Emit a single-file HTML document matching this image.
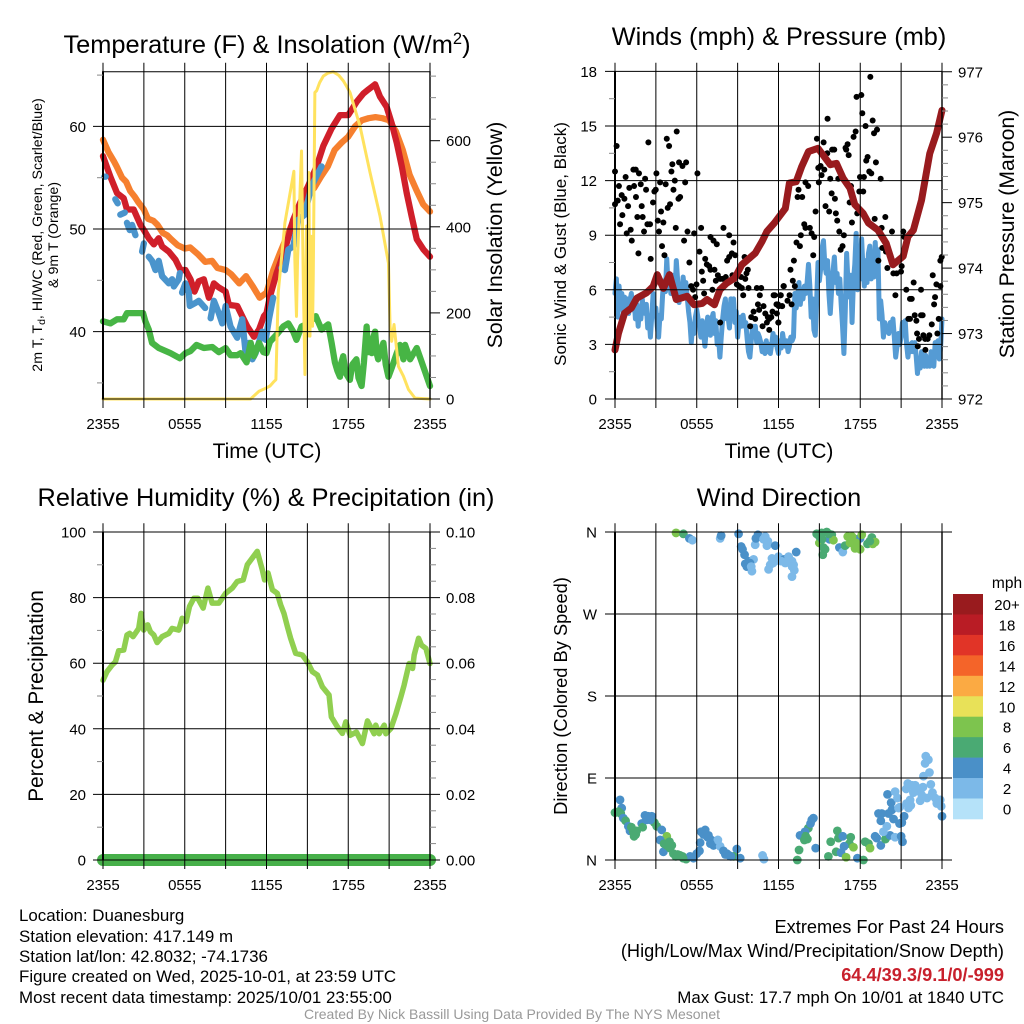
<!DOCTYPE html>
<html lang="en">
<head>
<meta charset="utf-8">
<title>Duanesburg Mesonet Meteogram</title>
<style>
html,body{margin:0;padding:0;background:#fff;}
svg{display:block;font-family:"Liberation Sans",sans-serif;}
text{fill:#000;}
</style>
</head>
<body>
<svg id="chart" xmlns="http://www.w3.org/2000/svg" width="1024" height="1024" viewBox="0 0 1024 1024">
<rect x="0" y="0" width="1024" height="1024" fill="#fff"/>
<g id="marks"></g>
<g id="axes"></g>
<g id="labels"></g>

<text x="267" y="53" font-size="25.4" text-anchor="middle">Temperature (F) &amp; Insolation (W/m<tspan dy="-9" font-size="16.5">2</tspan><tspan dy="9">)</tspan></text>
<text x="779" y="45" font-size="25.3" text-anchor="middle">Winds (mph) &amp; Pressure (mb)</text>
<text x="266" y="506" font-size="25.3" text-anchor="middle">Relative Humidity (%) &amp; Precipitation (in)</text>
<text x="779" y="506" font-size="25.3" text-anchor="middle">Wind Direction</text>

<text x="267" y="458" font-size="21" text-anchor="middle">Time (UTC)</text>
<text x="779" y="458" font-size="21" text-anchor="middle">Time (UTC)</text>

<text transform="translate(42,235) rotate(-90)" font-size="14.2" text-anchor="middle">2m T, T<tspan dy="3" font-size="10.5">d</tspan><tspan dy="-3">, HI/WC (Red, Green, Scarlet/Blue)</tspan></text>
<text transform="translate(58,235) rotate(-90)" font-size="14.2" text-anchor="middle">&amp; 9m T (Orange)</text>
<text transform="translate(502,235) rotate(-90)" font-size="21.2" text-anchor="middle">Solar Insolation (Yellow)</text>
<text transform="translate(566,244) rotate(-90)" font-size="17" text-anchor="middle">Sonic Wind &amp; Gust (Blue, Black)</text>
<text transform="translate(1014,234) rotate(-90)" font-size="21.2" text-anchor="middle">Station Pressure (Maroon)</text>
<text transform="translate(43,696) rotate(-90)" font-size="20.8" text-anchor="middle">Percent &amp; Precipitation</text>
<text transform="translate(567,696) rotate(-90)" font-size="18.3" text-anchor="middle">Direction (Colored By Speed)</text>

<g id="legend">
<text x="1007" y="588" font-size="15.5" text-anchor="middle">mph</text>
</g>

<g font-size="16.9">
<text x="19" y="921">Location: Duanesburg</text>
<text x="19" y="942">Station elevation: 417.149 m</text>
<text x="19" y="962">Station lat/lon: 42.8032; -74.1736</text>
<text x="19" y="982">Figure created on Wed, 2025-10-01, at 23:59 UTC</text>
<text x="19" y="1003">Most recent data timestamp: 2025/10/01 23:55:00</text>
</g>
<g font-size="18.2" text-anchor="end">
<text x="1004" y="933">Extremes For Past 24 Hours</text>
<text x="1004" y="957">(High/Low/Max Wind/Precipitation/Snow Depth)</text>
<text x="1004" y="981" font-weight="bold" style="fill:#c8202c">64.4/39.3/9.1/0/-999</text>
<text x="1004" y="1003" font-size="16.9">Max Gust: 17.7 mph On 10/01 at 1840 UTC</text>
</g>
<text x="512" y="1019" font-size="14" text-anchor="middle" style="fill:#999">Created By Nick Bassill Using Data Provided By The NYS Mesonet</text>
</svg>

<script>
/* ---------- x axis ---------- */
const timeLabels = ["2355","0555","1155","1755","2355"];
const timeLabelHours = [0,6,12,18,24];
const timeGridHours = [0,3,6,9,12,15,18,21,24];

/* ---------- temperature panel ---------- */
const tempTicks = [40,50,60];
const tempMinor = [35,45,55,65];
const insolTicks = [0,200,400,600];
const insolMinor = [50,100,150,250,300,350,450,500,550,650,700,750];

const t9mHours = [0,.4,.8,1,1.4,1.7,2,2.3,2.6,3,3.3,3.7,4,4.4,4.7,5,5.5,6,6.4,7,7.5,8,8.4,9,9.4,10,10.5,11,11.5,12,12.5,13,13.5,14,14.5,15,15.5,16,16.5,17,17.5,18,18.5,19,19.5,20,20.5,21,21.5,22,22.5,23,23.5,24];
const t9mValues = [58.7,57.5,56.6,56.1,55,54.6,53.7,53.2,52.6,51.9,51,50.8,50.4,49.6,49.4,49,48.4,48.1,48.2,47.5,46.8,46.9,46.2,46,45.6,44.7,45.4,44.4,43.3,43.8,46,47.7,49.3,50.9,52.4,53.2,54,55.1,56.1,57.7,58.4,59,60,60.6,60.8,60.9,60.8,60.6,59.5,57.7,55.3,53.8,52.4,51.7];

const t2mHours = [0,.54,1.03,1.52,1.76,2.25,2.75,3,3.36,3.73,4.09,4.34,4.83,5.32,5.69,6.05,6.42,6.72,7.03,7.4,7.77,8.14,8.5,9,9.24,9.85,10.22,10.59,11.08,11.45,11.81,12,12.25,12.74,13.35,13.96,14.45,15.06,15.68,16.17,16.78,17.39,18,18.62,19.11,19.48,19.97,20.33,20.82,21.19,21.56,21.93,22.29,22.66,23.03,23.52,24];
const t2mValues = [57.1,55.1,53.5,53,51.9,51.9,50.4,49.9,49.1,48.5,49.1,48.3,47.8,47,46,46,45.1,43.9,44.9,45.1,43.3,44.7,44.3,43.9,42.6,42.5,41.5,40.5,39.5,40.2,41.5,41.8,43.4,45.7,48,50.9,52.5,54.2,56.1,58.1,59.8,61.1,61.1,62.4,63.2,63.6,64.1,62.9,61.9,60.3,58.4,56.1,53.5,51.2,49,48,47.3];

const hiWcHours = [.1,.2,null,.9,1.08,null,1.27,1.6,null,1.76,1.96,2.13,2.38,null,2.87,3,null,3.36,3.6,3.85,4.09,4.34,4.83,5.07,5.2,5.56,5.64,null,5.8,6.05,6.3,6.37,6.79,7.03,7.5,null,7.9,8.14,8.5,8.75,9,9.36,9.85,10.22,10.47,10.71,10.96,11.2,11.69,11.94,12.18,12.49,null,13.1,13.35,13.6,13.96,14.33,14.82,14.94,15.31,15.8,16.04];
const hiWcValues = [55.1,55.1,null,52.9,52.5,null,51.4,51.6,null,50.6,49.9,50.4,49.4,null,47.8,48.6,null,47.3,46.9,46,46.9,45.4,44.7,45.1,44.4,45.1,45.7,null,43.8,44.7,43.8,42.5,42.8,43,42.3,null,41.3,43,41.8,40.8,42.5,40.5,39.4,41.2,37.9,38.9,37.3,37.9,40,39.2,41.2,43.3,null,46.2,46,48,48.3,50.9,51.4,52.2,54.2,55.5,56.1];

const tdHours = [0,.54,1.03,1.52,1.76,2.25,2.94,3.11,3.36,3.6,4.09,4.95,5.64,6.05,6.42,6.86,7.4,8.02,8.5,9,9.36,9.85,10.1,10.54,10.84,11.08,11.45,11.77,12,12.25,12.74,13.23,13.6,13.96,14.2,14.57,15.06,15.62,16.04,16.53,16.78,17.02,17.2,17.39,17.5,17.63,17.8,18.12,18.3,18.6,18.75,18.98,19.15,19.35,19.45,19.6,19.72,19.85,19.97,20.1,20.2,20.4,20.58,20.75,20.95,21.2,21.56,21.8,22.05,22.17,22.54,23.03,23.4,24];
const tdValues = [41,40.8,41.2,41.2,41.8,41.8,41.8,41,40.2,38.9,38.4,37.9,37.4,37.9,38.1,38.7,38.4,38.5,38,38.4,37.7,37.7,37.9,37,38.9,37.6,38.9,38,37.9,39,39.7,40.5,40.8,40,39.2,40.5,40.8,41.5,40.2,40.7,38.9,37,36.2,35.6,37,37.6,36,35.3,36.8,37.3,35.5,34.7,37,40.5,38,39,37.9,39.5,40,37.8,37.3,38.2,38.9,36.8,35.6,36.5,37.9,38.7,37.3,38.7,37.3,38.4,37,34.7];

const insolHours = [0,10.83,11.45,11.94,12.25,12.5,12.69,12.86,13.35,14.01,14.08,14.2,14.28,14.57,14.7,14.82,14.94,15.01,15.11,15.19,15.26,15.38,15.43,15.55,15.68,15.9,16.17,16.5,16.9,17.3,17.64,17.9,18.13,18.86,19.6,20.33,20.95,21.07,21.19,21.36,21.68,22.05,22.42,22.9,24];
const insolValues = [0,0,18,25,30,39,45,247,409,529,324,192,324,576,278,57,402,146,526,146,378,169,278,712,716,735,750,757,760,752,739,725,712,634,526,425,316,169,134,173,76,53,22,2,0];

/* ---------- wind panel ---------- */
const windTicks = [0,3,6,9,12,15,18];
const windMinor = [1.5,4.5,7.5,10.5,13.5,16.5];
const presTicks = [972,973,974,975,976,977];
const presMinor = [972.2,972.4,972.6,972.8,973.2,973.4,973.6,973.8,974.2,974.4,974.6,974.8,975.2,975.4,975.6,975.8,976.2,976.4,976.6,976.8];

const windValues = [
5.8,6.6,4.5,6.2,5.0,5.8,4.8,5.6,5.1,5.5,
4.7,5.4,5.8,4.9,5.5,4.4,5.2,4.0,5.0,4.4,
5.5,4.8,4.7,5.2,3.9,4.5,3.4,4.6,5.8,4.7,
5.0,4.0,3.4,4.6,4.4,5.8,6.5,5.9,7.7,6.2,
6.6,5.8,5.8,6.8,5.6,7.6,6.5,5.3,6.2,5.6,
6.7,6.0,6.4,5.6,4.8,4.2,3.1,4.1,3.6,4.5,
4.9,4.4,4.0,3.4,4.3,3.6,2.9,3.8,4.5,4.2,
3.5,4.4,4.7,3.6,4.3,3.0,3.4,2.3,3.4,4.4,
5.1,5.5,4.4,4.5,3.9,5.5,5.0,5.5,4.2,4.8,
3.4,4.2,4.5,4.0,4.6,4.0,4.2,3.3,2.6,2.3,
3.2,4.0,3.5,4.0,3.1,3.6,3.4,3.1,2.6,3.0,
2.5,3.2,2.6,3.0,2.5,3.0,3.6,3.0,3.4,2.8,
2.5,3.2,2.8,3.6,3.1,2.9,3.2,2.6,2.9,3.4,
3.2,3.4,5.8,5.0,5.6,6.4,5.2,6.0,5.5,6.2,
5.8,6.4,7.4,6.2,4.5,5.5,3.8,3.5,5.4,7.5,
6.5,7.2,8.3,8.7,7.4,6.9,7.6,5.8,4.7,6.0,
7.0,7.8,6.4,6.9,5.8,6.6,5.2,4.0,2.5,4.8,
8.0,6.4,5.6,6.8,4.2,6.5,7.4,9.1,6.0,7.2,
6.6,8.8,7.2,6.2,7.6,6.4,8.0,8.4,6.6,7.4,
6.7,8.6,7.0,8.2,4.4,5.4,4.6,3.4,4.2,3.7,
4.0,3.6,4.2,3.8,4.4,3.4,2.3,2.9,3.6,3.0,
3.4,4.2,3.6,4.3,3.0,2.3,3.0,2.6,3.1,2.6,
3.1,2.4,1.4,2.2,1.7,2.6,2.0,1.8,2.4,1.8,
2.1,1.8,2.6,1.9,1.8,3.1,2.4,3.2,2.2,2.9,
4.4];
const windHours = windValues.map((v, i) => i * 24 / (windValues.length - 1));

const presHours = [0,.25,.7,1.2,1.6,2.3,2.8,3.1,3.55,4,4.5,5.3,5.8,6.4,6.75,7.3,7.7,8.2,8.8,9.3,10.3,10.8,11.15,11.7,12.5,12.8,13.3,13.7,14.2,14.9,15.8,16.25,16.75,17.25,17.6,18.2,18.6,19.3,19.9,20.4,21.15,21.5,21.9,22.5,23.1,23.6,24];
const presValues = [972.75,973,973.31,973.39,973.54,973.62,973.72,973.9,973.69,973.9,973.52,973.57,973.44,973.46,973.52,973.44,973.67,973.77,973.85,974.05,974.23,974.41,974.56,974.69,974.91,975.3,975.32,975.55,975.78,975.83,975.58,975.6,975.37,975.22,974.97,974.84,974.69,974.58,974.38,974.05,974.18,974.48,974.58,975.04,975.75,976.06,976.41];

const gustHours = [.12,0,.29,0,.2,.49,.69,.54,.37,.86,1.15,1.23,1.72,.78,1.35,1.52,1.76,2.21,1.89,1.05,1.4,1.54,.96,1.96,2.28,2.45,1.64,2.03,2.13,2.38,2.57,2.62,2.79,2.89,2.99,3.04,3.31,3.72,3.38,3.14,3.55,3.23,3.45,3.63,3.8,3.97,4.21,4.53,4.7,4.95,5.22,4.14,4.39,4.29,5.15,4.78,4.66,4.04,3.87,4.46,5.32,5.07,5.46,5.81,6.32,6.05,5.59,5.73,5.98,5.88,6.54,6.47,6.37,6.2,6.62,6.74,6.91,7.01,7.3,7.15,7.72,7.01,7.23,7.47,7.96,8.38,8.7,8.58,8.38,8.23,8.82,7.55,7.89,8.13,7.4,7.72,8.62,8.94,9.11,9.26,9.51,9.75,9.65,9.56,9.31,9.41,9.8,10.41,10.73,10.63,10.49,9.92,10,10.17,10.29,10.58,10.9,11.03,11.22,11.32,11.15,10.83,11.32,11.64,11.56,11.47,11.96,12.13,12.25,11.88,12,12.37,11.73,12.17,12.81,11.85,12.02,12.27,12.66,12.96,11.98,12.39,13.2,13.05,12.88,13.13,13.32,13.57,13.64,13.89,13.98,14.3,14.43,14.62,14.55,14.72,14.82,15.31,15.6,14.92,15.09,15.36,15.16,14.96,15.8,15.94,16.09,15.58,13.98,14.18,13.47,13.74,13.4,15.9,16.14,15.45,15.72,16.21,16.31,16.46,16.8,16.7,16.56,16.39,16.92,17.07,16.97,17.15,17.51,17.66,17.73,18.08,18.15,18.74,18.91,18.39,19.01,19.23,18.27,17.98,18.54,18.44,18.66,18.81,19.15,19.5,17.22,17.39,17.78,17.93,18.22,17.32,19.06,19.84,19.57,19.62,20.33,21.16,21.24,19.89,19.33,19.99,20.43,21.04,20.67,20.99,21.38,20.58,21.92,21.65,21.78,22.46,23.32,23.59,23.88,23.49,23.42,21.53,22,22.46,22.58,21.65,23.76,22.12,22.17,22.31,22.63,22.76,22.95,23.07,23.25,23.66,22.22,22.78,23.88,23.98];
const gustValues = [13.9,12.5,11.7,10.7,10.9,11.2,11,10.1,9.6,9.1,9.3,8.7,8,12.2,12.6,12.6,12.4,12.1,11.8,11.6,11.7,11.1,10.6,10.6,11.5,14.1,10,10,9.2,9.6,9.6,7.7,10.8,11.4,11.5,12.4,11.9,11.8,10.3,9.8,9.7,9.2,8.4,7.9,14.3,13.9,12.9,14.7,13,12.8,13,12.5,12,11.5,11.9,11.1,11,10.7,10.5,9.4,9.2,8.7,7.5,9.1,9.4,12.4,6.2,6,6.3,5.6,5.8,6.5,7,8.1,7.7,7.4,7.3,7.1,7.1,6,4.2,8.9,8.7,8.5,9.4,9,8.6,8,7.8,7.6,7.9,6.8,6.6,6.7,6.5,6.6,6.8,6.3,6.2,6.7,7.8,7.1,6.9,6.6,6.1,5.7,6.1,6.1,6.1,5.7,5.2,4,4.5,4.8,4.4,4.9,5.1,4.7,4.5,4.4,4.2,4,3.8,5.7,4.8,4.5,5.2,5.7,5.1,4.7,4.2,6.2,5.7,5.7,5.7,5.2,5.1,5.1,5.4,5.2,4.2,6.2,6.2,6.5,7.1,7.6,8.6,8.4,9,9.6,9.4,9.4,9.1,8.9,7.9,10.3,14.3,14.1,15.4,12.7,12.8,12.6,12.3,11.9,12.1,13.7,13.7,13.5,11.9,11.7,11.5,11.1,11.1,11.3,11,10.6,10.3,10.2,9.8,9.2,9,8.4,8.2,12.1,13.8,14,13.7,13.4,14.4,14.7,16.6,16.7,15.7,17.7,15.3,15,14.6,14.8,12.2,12.2,13.3,13.1,12.5,12.4,13,12.1,10.8,9.7,10.2,11.4,11.4,11.7,9.9,10,9.4,8.3,9.2,9.2,8.9,8.1,7.6,7.2,6.9,7.3,6.9,7,6,5.7,6.4,5.5,5.5,6,6.8,6.3,6.2,5.6,5.2,4.4,4.6,4.6,4.6,4.4,4.4,4.3,3.6,3.3,3.5,3.3,3.3,3.5,4.1,3.6,2.9,2.7,7.6,7.8];

/* ---------- humidity panel ---------- */
const rhTicks = [0,20,40,60,80,100];
const rhMinor = [10,30,50,70,90];
const precipTicks = [0,.02,.04,.06,.08,.1];
const precipTickLabels = ["0.00","0.02","0.04","0.06","0.08","0.10"];
const precipMinor = [.005,.01,.015,.025,.03,.035,.045,.05,.055,.065,.07,.075,.085,.09,.095];

const rhHours = [0,.29,.66,.91,1.15,1.52,1.76,1.96,2.21,2.62,2.79,2.99,3.28,3.48,3.73,3.97,4.34,4.83,5.07,5.56,5.81,6.1,6.35,6.67,6.96,7.35,7.7,8.01,8.5,9,9.49,9.85,10.29,10.59,11.32,11.69,11.86,12.11,12.43,12.79,13.04,13.28,13.53,13.77,14.14,14.63,15,15.37,15.74,16.1,16.59,16.76,17.2,17.57,17.82,18.14,18.6,19.04,19.41,19.9,20.02,20.27,20.64,20.76,21.13,21.5,21.86,22.1,22.47,22.72,22.84,23.16,23.38,23.7,24];
const rhValues = [54.8,57.4,59.4,60.4,63.8,64,68.6,69.1,68.1,70.6,75.2,70.1,71.7,69.6,68.6,66.3,68.1,69.1,70.6,70.1,73.7,72.7,77.3,79.8,79.8,76.8,82.9,78.3,78.3,81.3,82.9,84.9,85.4,90,94.1,88.5,85.4,87.5,82.4,81.3,77.8,75.2,71.2,67.6,63,62.5,60.4,57.4,56.4,52.8,50.3,43.6,40.6,38.6,42.1,38,39,35.5,42.4,38.5,41.1,38.5,41.1,38.5,40.1,44.6,49.7,53.3,59.9,58.4,62.5,67.6,65.5,64.5,59.9];
const precipHours = [0,24];
const precipValues = [0,0];

/* ---------- wind direction panel ---------- */
const dirTicks = [0,90,180,270,360];
const dirTickLabels = ["N","E","S","W","N"];
const dirHours = [4.48,5.02,5.46,5.68,7.72,7.79,9.07,9.26,9.36,9.51,10.29,10.49,10.58,10.34,11.03,11.22,11.15,11.76,9.8,9.68,10.17,10.05,9.56,11.52,11.39,11.27,11.76,12,12.42,12.74,12.99,13.3,13.11,13.16,12.99,
14.8,15.17,15.54,15.91,15,15.29,15.25,15.42,15.74,16.03,16.47,16.72,16.89,17.08,17.25,17.62,17.79,17.99,18.11,17.99,18.53,18.85,19.09,18.92,
.37,.49,0,.25,.42,.61,.78,.98,1.1,1.35,1.52,1.59,1.96,2.03,2.2,2.45,2.7,2.89,3.06,3.43,3.8,3.31,3.55,3.8,4.17,4.04,4.29,4.46,4.78,4.95,5.22,5.51,5.76,6,6.2,6.25,6.32,6.62,6.86,7.06,7.23,7.55,7.72,7.96,8.21,8.38,8.94,8.7,9.19,10.83,10.93,
14.44,14.56,14.19,13.95,13.82,14.12,13.58,13.51,13.38,14.73,
15.66,16.32,16.4,15.83,16.72,17.3,17.2,16.23,16.81,16.59,
17.5,16.96,17.79,18.23,18.36,18.6,18.72,19.09,19.21,19.51,
19.85,20.19,20.56,19.95,19.7,19.34,19.58,19.51,20.07,20.32,
20.44,20,20.27,20.56,20.73,20.81,20.88,21.05,21.22,21,
21.1,21.54,21.71,21.66,21.37,21.49,22.03,22.4,22.52,22.15,
22.4,23.18,22.64,23.08,22.76,23,22.81,23.25,23.5,23.87,
23.62,23.94,24,
9.9,10,11.6,11.9,12.2,12.5,12.8,13,10.9,15,15.2,15.7,17.4,17.7,18.7,
1.2,1.4,2.3,2.6,3.6,4,4.6,5,6.5,6.8,7,8.1,8.5,14.35,14,13.9,20.9,21.4,21.8,22.2,22.6,22.9,23.3,23.7,21.9];
const dirDegrees = [359,358,353,351,353,356,358,344,341,335,346,357,355,353,355,350,345,345,328,322,330,317,325,331,324,319,328,333,330,333,328,338,324,318,311,
358,359,360,357,348,343,335,341,352,351,343,338,345,355,348,342,352,353,357,341,347,354,349,347,
66,57,52,53,51,46,43,37,32,31,28,32,40,36,49,48,48,41,37,33,26,22,9,16,16,13,7,4,5,4,1,4,2,7,10,19,31,33,27,22,16,22,15,10,7,5,12,4,2,5,1,
44,46,35,31,26,23,27,11,0,13,
4,32,24,20,26,25,18,9,15,8,
14,3,2,0,20,18,13,26,24,16,
23,27,25,37,31,51,51,43,51,55,
45,72,63,75,68,57,40,41,48,26,
20,57,60,66,78,84,82,75,71,79,
65,83,92,96,106,110,114,71,68,66,
62,59,48,
326,322,326,330,328,326,330,322,352,355,352,358,355,348,350,
36,26,44,44,18,20,6,2,28,25,18,6,4,40,26,22,58,62,82,76,80,68,74,64,74];
const dirSpeeds = [8,6,4,2,2,4,4,4,4,4,2,4,4,4,2,2,2,4,4,4,2,2,4,2,2,2,2,2,4,2,2,4,2,2,2,
6,6,6,6,8,6,6,6,4,8,4,2,6,8,8,8,6,4,8,8,6,6,8,8,
4,4,6,6,6,4,6,4,4,6,6,6,4,6,4,4,4,6,6,4,8,4,4,6,6,6,6,6,6,6,6,4,4,4,4,4,4,4,4,4,4,2,2,4,4,4,4,6,4,2,2,
4,4,6,4,6,6,4,6,6,4,
6,6,6,6,4,6,6,6,4,4,
8,8,4,6,6,6,8,4,4,4,
6,4,2,2,2,4,4,4,4,4,
4,4,4,2,2,2,4,4,4,4,
4,2,2,2,2,2,2,2,2,2,
2,2,2,2,2,2,2,2,2,2,
2,2,4,
4,2,2,2,2,2,2,2,2,6,6,6,8,8,6,
6,6,4,4,6,6,6,6,4,4,4,4,4,4,6,6,2,2,2,2,2,2,2,2,2];

/* ---------- legend ---------- */
const legendLabels = ["20+","18","16","14","12","10","8","6","4","2","0"];
const legendColors = ["#991b1e","#b91c25","#e13427","#f46429","#fbaa43","#e8e158","#7dc44e","#4aaa73","#4a90c8","#7cb9e8","#b5e2f9"];

/* ---------- axis functions ---------- */
const SVGNS = "http://www.w3.org/2000/svg";
const xLeft = h => 103 + h * 327 / 24;
const xRight = h => 615 + h * 327 / 24;
const yTemp = v => 229 - (v - 50) * 10.26;
const yInsol = v => 399 - v * 0.4305;
const yWind = v => 399 - v * 18.2;
const yPres = v => 399 - (v - 972) * 65.45;
const yRh = v => 860 - v * 3.28;
const yPrecip = v => 860 - v * 3280;
const yDir = v => 860 - v * 0.9111;

const marks = document.getElementById("marks");
const axes = document.getElementById("axes");
const labels = document.getElementById("labels");
const legend = document.getElementById("legend");

function line(parent, x1, y1, x2, y2, color, width) {
  const el = document.createElementNS(SVGNS, "line");
  el.setAttribute("x1", x1);
  el.setAttribute("y1", y1);
  el.setAttribute("x2", x2);
  el.setAttribute("y2", y2);
  el.setAttribute("stroke", color);
  el.setAttribute("stroke-width", width);
  parent.appendChild(el);
  return el;
}

function label(x, y, str, anchor, size) {
  const el = document.createElementNS(SVGNS, "text");
  el.setAttribute("x", x);
  el.setAttribute("y", y);
  el.setAttribute("text-anchor", anchor);
  el.setAttribute("font-size", size);
  el.textContent = str;
  labels.appendChild(el);
  return el;
}

function series(hours, values, xf, yf, color, width, name) {
  const g = document.createElementNS(SVGNS, "g");
  
  
  let pts = [];
  const flush = () => {
    if (pts.length) {
      const p = document.createElementNS(SVGNS, "polyline");
      p.setAttribute("points", pts.join(" "));
      p.setAttribute("fill", "none");
      p.setAttribute("stroke", color);
      p.setAttribute("stroke-width", width);
      p.setAttribute("stroke-linejoin", "round");
      p.setAttribute("stroke-linecap", "round");
      
      
      g.appendChild(p);
    }
    pts = [];
  };
  hours.forEach((h, i) => {
    if (h === null || values[i] === null) { flush(); return; }
    pts.push(xf(h).toFixed(2) + "," + yf(values[i]).toFixed(2));
  });
  flush();
  marks.appendChild(g);
}

function dot(h, v, xf, yf, color, r, name) {
  const c = document.createElementNS(SVGNS, "circle");
  c.setAttribute("cx", xf(h).toFixed(2));
  c.setAttribute("cy", yf(v).toFixed(2));
  c.setAttribute("r", r);
  c.setAttribute("fill", color);
  
  
  marks.appendChild(c);
}

function speedColor(mph) {
  const idx = Math.min(legendLabels.length - 1, Math.max(0, 10 - Math.round(mph / 2)));
  return legendColors[idx] || legendColors[9];
}

function panelFrame(xf, top, bottom, name) {
  const g = document.createElementNS(SVGNS, "g");
  
  
  axes.appendChild(g);
  timeGridHours.forEach(h => {
    const el = line(g, xf(h), top - 9, xf(h), bottom + 9, "#000", 1);
    
    
  });
  const lb = line(g, xf(0), top - 0.5, xf(0), bottom + 0.5, "#000", 2);
  
  
  const rb = line(g, xf(24), top - 0.5, xf(24), bottom + 0.5, "#000", 1.4);
  
  
  timeLabels.forEach((s, i) => {
    const el = label(xf(timeLabelHours[i]), bottom + 30, s, "middle", 15);
    
    
  });
  return g;
}

function hTicks(g, ticks, yf, x1, x2, name) {
  ticks.forEach(v => {
    const el = line(g, x1, yf(v), x2, yf(v), "#000", 1);
    
    
  });
}

function minorTicks(g, ticks, yf, x1, x2, name) {
  ticks.forEach(v => {
    const el = line(g, x1, yf(v), x2, yf(v), "#888", 1);
    
    
  });
}

function tickLabels(vals, strs, yf, x, anchor, name) {
  vals.forEach((v, i) => {
    const el = label(x, yf(v) + 5.5, strs[i], anchor, 15);
    
    
  });
}

/* ---------- draw data ---------- */
series(t9mHours, t9mValues, xLeft, yTemp, "#f6802f", 6.3, "temperature-9m-series");
series(t2mHours, t2mValues, xLeft, yTemp, "#d01f2a", 6.3, "temperature-2m-series");
series(hiWcHours, hiWcValues, xLeft, yTemp, "#4a94cc", 6.3, "heat-index-wind-chill-series");
series(tdHours, tdValues, xLeft, yTemp, "#47b545", 6.3, "dew-point-series");
series(insolHours, insolValues, xLeft, yInsol, "#ffe25e", 3, "solar-insolation-series");

series(windHours, windValues, xRight, yWind, "#559bd4", 5, "sonic-wind-series");
gustHours.forEach((h, i) => dot(h, gustValues[i], xRight, yWind, "#000", 3, "gust-point"));
series(presHours, presValues, xRight, yPres, "#981b1e", 7, "station-pressure-series");

series(rhHours, rhValues, xLeft, yRh, "#90cf50", 5.5, "relative-humidity-series");
series(precipHours, precipValues, xLeft, yPrecip, "#47b04a", 12, "precipitation-series");

dirHours.forEach((h, i) => dot(h, dirDegrees[i], xRight, yDir, speedColor(dirSpeeds[i]), 4.4, "wind-direction-point"));

/* ---------- draw axes ---------- */
const pTemp = panelFrame(xLeft, 71.7, 399, "temperature-axes");
hTicks(pTemp, tempTicks, yTemp, 93, 430, "temperature-gridline");
minorTicks(pTemp, tempMinor, yTemp, 97, 103, "temperature-minor-tick");
hTicks(pTemp, insolTicks, yInsol, 430, 440, "insolation-tick");
minorTicks(pTemp, insolMinor, yInsol, 430, 436, "insolation-minor-tick");
const tempTop = line(pTemp, 103, 71.7, 430, 71.7, "#000", 1);


const tempBot = line(pTemp, 103, 399, 430, 399, "#000", 1);


tickLabels(tempTicks, tempTicks.map(String), yTemp, 86, "end", "temperature-tick-label");
tickLabels(insolTicks, insolTicks.map(String), yInsol, 446, "start", "insolation-tick-label");

const pWind = panelFrame(xRight, 71.7, 399, "wind-axes");
hTicks(pWind, windTicks, yWind, 605, 942, "wind-gridline");
minorTicks(pWind, windMinor, yWind, 609, 615, "wind-minor-tick");
hTicks(pWind, presTicks, yPres, 942, 952, "pressure-tick");
minorTicks(pWind, presMinor, yPres, 942, 948, "pressure-minor-tick");
tickLabels(windTicks, windTicks.map(String), yWind, 597, "end", "wind-tick-label");
tickLabels(presTicks, presTicks.map(String), yPres, 958, "start", "pressure-tick-label");

const pRh = panelFrame(xLeft, 532.3, 860, "humidity-axes");
hTicks(pRh, rhTicks, yRh, 93, 440, "humidity-gridline");
minorTicks(pRh, rhMinor, yRh, 97, 103, "humidity-minor-tick");
minorTicks(pRh, precipMinor, yPrecip, 430, 436, "precipitation-minor-tick");
tickLabels(rhTicks, rhTicks.map(String), yRh, 86, "end", "humidity-tick-label");
tickLabels(precipTicks, precipTickLabels, yPrecip, 446, "start", "precipitation-tick-label");

const pDir = panelFrame(xRight, 532.3, 860, "direction-axes");
hTicks(pDir, dirTicks, yDir, 605, 952, "direction-gridline");
tickLabels(dirTicks, dirTickLabels, yDir, 597, "end", "direction-tick-label");

/* ---------- legend ---------- */
legendLabels.forEach((s, i) => {
  const r = document.createElementNS(SVGNS, "rect");
  r.setAttribute("x", 953);
  r.setAttribute("y", 594 + i * 20.45);
  r.setAttribute("width", 30);
  r.setAttribute("height", 20.8);
  r.setAttribute("fill", legendColors[i]);
  
  
  legend.appendChild(r);
  const t = document.createElementNS(SVGNS, "text");
  t.setAttribute("x", 1007);
  t.setAttribute("y", 610 + i * 20.45);
  t.setAttribute("text-anchor", "middle");
  t.setAttribute("font-size", 15);
  t.textContent = s;
  
  
  legend.appendChild(t);
});
</script>
</body>
</html>
